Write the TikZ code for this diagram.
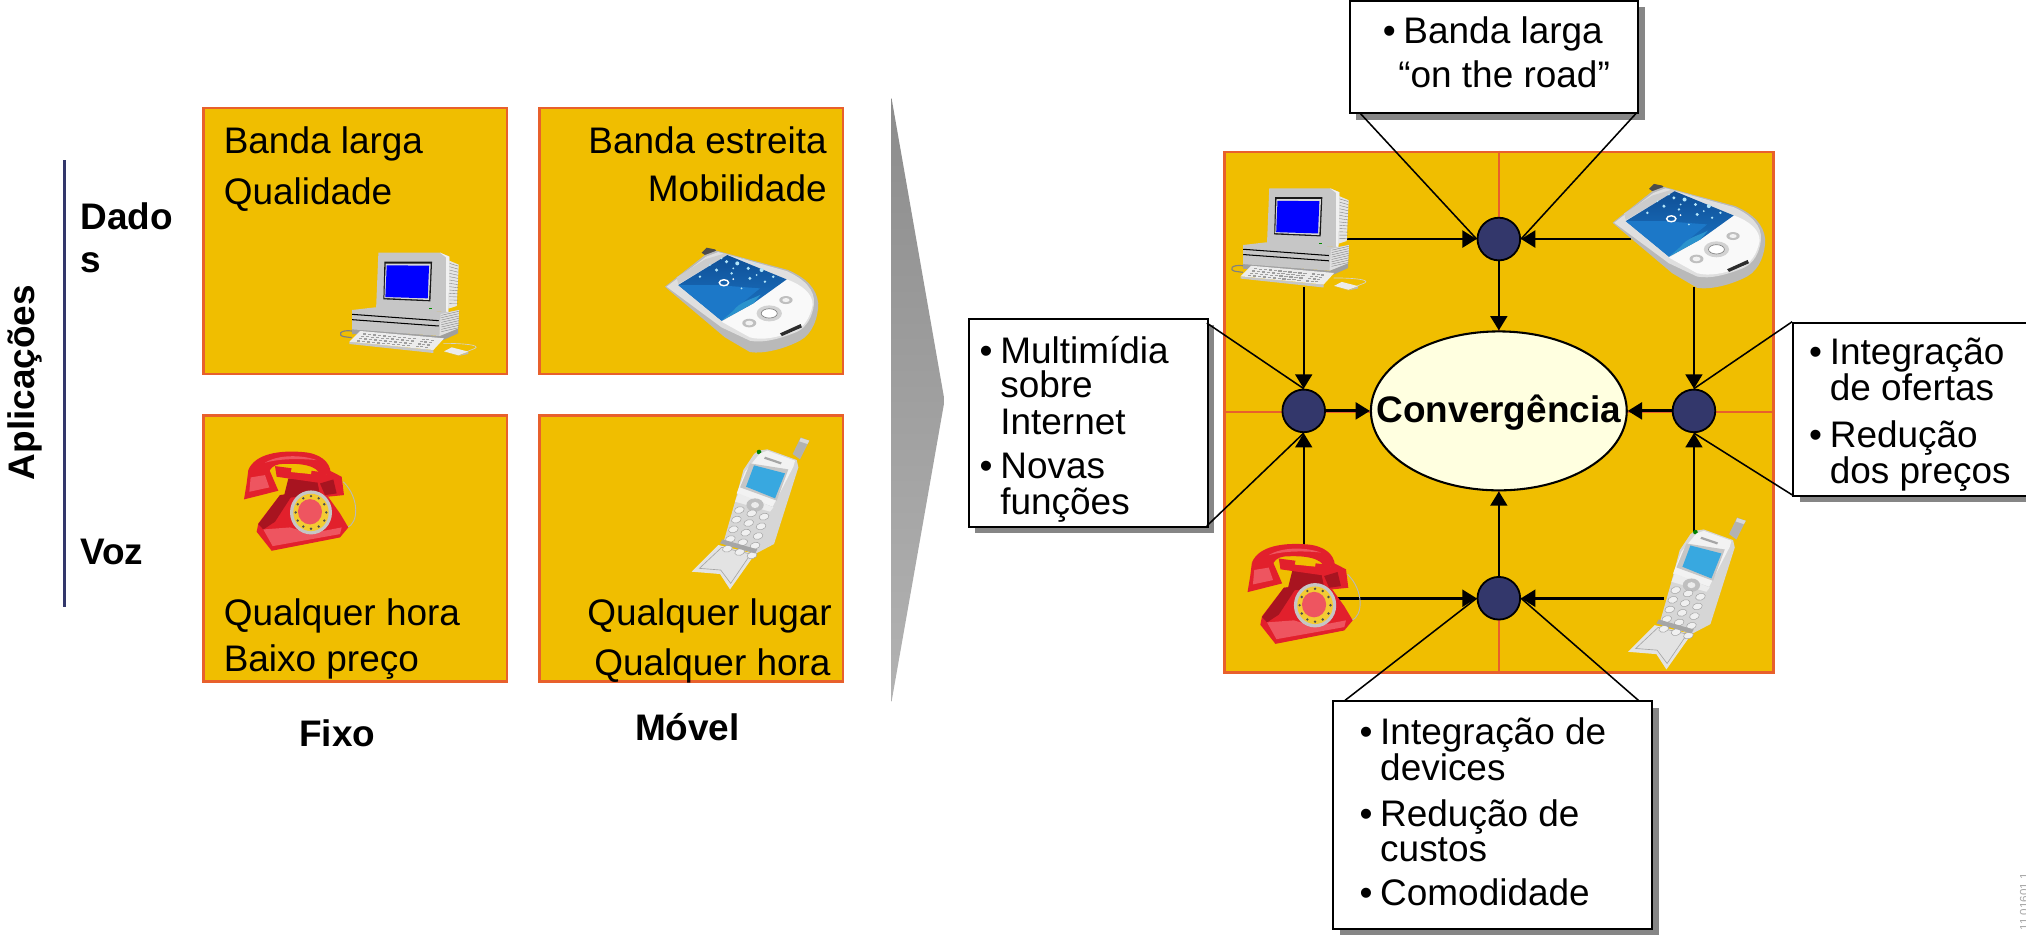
\documentclass[tikz,border=0pt]{standalone}
\usepackage{fontspec}
\setmainfont{Liberation Sans}
\usetikzlibrary{arrows.meta,shadows,calc,shapes.geometric}
\definecolor{gold}{HTML}{F0BE00}
\definecolor{orng}{HTML}{E8602C}
\definecolor{navy}{HTML}{33376B}
\definecolor{cream}{HTML}{FFFFE0}
\definecolor{silv}{HTML}{C6C6C6}
\definecolor{telred}{HTML}{E2202C}
\definecolor{teldark}{HTML}{A81420}
\definecolor{telhi}{HTML}{EE5560}
\definecolor{celblue}{HTML}{38A8E0}
\definecolor{pdatop}{HTML}{0F4F96}
\definecolor{pdalow}{HTML}{1C78C8}
\newcommand{\bul}{\makebox[16pt][l]{•}}
\tikzset{
  x=1pt,y=-1pt,
  sq/.style={draw=orng,fill=gold,line width=2pt,inner sep=0pt,anchor=north west},
  smallsq/.style={sq,minimum width=235pt,minimum height=206pt},
  lab/.style={inner sep=0pt,font=\fontsize{28.6}{34}\selectfont,text=black},
  lw/.style={lab,anchor=base west},
  le/.style={lab,anchor=base east},
  bold/.style={lab,font=\fontsize{28.6}{34}\selectfont\bfseries},
  dot/.style={circle,draw=black,fill=navy,line width=1.4pt,minimum size=33pt,inner sep=0pt},
  callout/.style={draw=black,fill=white,line width=1.6pt,inner sep=0pt,anchor=north west,
    general shadow={fill=gray!95,shadow xshift=5pt,shadow yshift=-5pt}},
  thinline/.style={draw=black,line width=1.2pt},
  arr/.style={draw=black,line width=1.6pt,-{Triangle[length=11pt,width=13pt]}},
  arrH/.style={draw=black,line width=2.2pt,-{Triangle[length=11pt,width=13pt]}},
  pc/.pic={
    \draw[gray,line width=.9pt] (96,303) .. controls (58,298) and (52,316) .. (72,320) -- (95,323);
    \draw[gray!35,line width=.5pt] (370,340) .. controls (430,340) and (482,345) .. (465,355) -- (440,365);
    \fill[gray!75] (96,295) -- (358,318) -- (414,292) -- (414,310) -- (370,330) -- (96,312) -- cycle;
    \fill[silv] (96,240) -- (165,232) -- (385,246) -- (417,240) -- (414,295) -- (358,318) -- (96,298) -- cycle;
    \fill[gray!25] (362,252) -- (417,240) -- (414,295) -- (358,318) -- cycle;
    \foreach \i in {0,...,7}{\draw[gray,line width=.3pt] (364,{256+\i*7}) -- (416,{244+\i*7});}
    \draw[black,line width=.8pt] (96,253) -- (356,272);
    \draw[black,line width=.8pt] (96,269) -- (356,288);
    \fill[gray!20] (355,95) -- (388,92) -- (416,104) -- (410,228) -- (385,236) -- cycle;
    \foreach \i in {0,...,12}{\draw[gray,line width=.3pt] (388,{100+\i*10}) -- (414,{108+\i*9.3});}
    \fill[silv] (175,68) -- (360,68) -- (388,80) -- (385,246) -- (168,238) -- cycle;
    \fill[white!75!silv] (360,68) -- (388,80) -- (385,246) -- (378,245) -- (378,82) -- cycle;
    \fill[gray!20!black] (193,95) -- (336,95) -- (331,214) -- (190,208) -- cycle;
    \fill[gray!30] (197,101) -- (332,101) -- (327,210) -- (193,204) -- cycle;
    \fill[blue] (200,106) -- (327,107) -- (323,205) -- (196,201) -- cycle;
    \fill[green!55!black] (327,234) rectangle (336,237);
    \fill[gray!45] (88,335) -- (340,360) -- (340,369) -- (88,342) -- cycle;
    \fill[gray!15] (120,303) -- (372,325) -- (340,360) -- (88,335) -- cycle;
    \foreach \j in {0,1,2,3}{\foreach \i in {0,...,10}{
      \fill[gray!75] ({128+\i*15-\j*6},{310+\i*1.4+\j*7}) rectangle +(10,4);}
      \foreach \i in {0,1,2}{\fill[gray!75] ({305+\i*14-\j*6},{326+\i*1.4+\j*7}) rectangle +(9,4);}}
    \fill[gray!55] (372,365) -- (415,378) -- (445,365) -- (445,372) -- (415,378) -- cycle;
    \fill[gray!15] (372,364) -- (395,352) -- (445,365) -- (415,376) -- cycle;
  },
  pda/.pic={
    \fill[gray!60!black] (155,98) -- (170,83) -- (195,88) -- (208,102) -- (175,112) -- cycle;
    \fill[gray!55] (45,200) -- (165,105) -- (200,92) -- (415,150) .. controls (470,175) and (500,205) .. (505,250) .. controls (505,290) and (490,340) .. (450,362) .. controls (400,388) and (340,402) .. (300,396) -- (225,352) -- cycle;
    \fill[gray!25] (50,200) -- (168,110) -- (205,96) -- (410,153) .. controls (465,178) and (496,210) .. (492,252) .. controls (488,290) and (470,322) .. (440,336) .. controls (390,356) and (340,370) .. (300,362) -- (215,322) -- cycle;
    \fill[white!95!gray] (215,305) -- (310,250) -- (410,178) .. controls (460,195) and (490,225) .. (488,255) .. controls (480,295) and (460,325) .. (430,335) .. controls (380,352) and (340,362) .. (300,352) -- cycle;
    \fill[gray!40] (80,172) -- (165,118) -- (225,100) -- (232,105) -- (85,192) -- cycle;
    \shade[top color=pdatop,bottom color=pdalow] (85,195) -- (232,105) -- (410,178) -- (310,250) -- (215,302) -- cycle;
    \fill[pdalow] (85,195) -- (200,195) -- (330,205) -- (260,262) -- (215,302) -- cycle;
    \fill[cyan!50!pdalow] (250,272) .. controls (270,245) and (300,240) .. (332,224) -- (310,250) -- (215,302) -- cycle;
    \foreach \a/\b/\r in {230/125/5,262/130/6,295/145/5,335/150/6,370/170/4,200/150/5,245/160/4,150/170/4,300/175/5,345/185/4,275/205/3,180/135/3,215/115/3,320/165/3,280/118/3,250/145/3,315/130/3}{
      \fill[white!70!cyan] (\a,\b) circle (\r);}
    \draw[white,line width=1.1pt] (222,188) ellipse (14 and 9);
    \fill[white] (250,177) circle (3);
    \fill[gray!35] (358,280) ellipse (38 and 24);
    \fill[white] (358,280) ellipse (24 and 14);
    \draw[gray,line width=.5pt] (358,280) ellipse (24 and 14);
    \fill[gray!50] (298,309) ellipse (21 and 13);
    \fill[gray!10] (298,309) ellipse (12 and 7);
    \fill[gray!50] (408,240) ellipse (20 and 12);
    \fill[gray!10] (408,240) ellipse (11 and 6);
    \fill[gray!35!black] (390,340) -- (452,312) -- (456,322) -- (396,348) -- cycle;
  },
  tel/.pic={
    \draw[gray!55,line width=.7pt] (340,125) .. controls (390,175) and (385,250) .. (352,262);
    \fill[telred] (85,250) -- (150,165) -- (280,150) -- (330,220) -- (355,262) -- (330,292) -- (125,332) -- (80,275) -- cycle;
    \fill[teldark] (85,252) -- (150,165) -- (190,160) -- (135,245) -- (100,268) -- cycle;
    \fill[telhi] (100,268) -- (180,262) -- (240,280) -- (335,262) -- (330,282) -- (128,318) -- cycle;
    \fill[teldark] (175,115) -- (262,115) -- (285,160) -- (160,175) -- cycle;
    \fill[telred] (135,78) -- (290,98) -- (280,130) -- (140,110) -- cycle;
    \fill[gold] (185,82) -- (245,90) -- (243,102) -- (183,96) -- cycle;
    \fill[telred] (55,90) .. controls (75,40) and (150,30) .. (220,36) .. controls (270,40) and (300,65) .. (302,98) -- (272,108) .. controls (265,75) and (210,68) .. (150,72) .. controls (130,75) and (120,85) .. (115,100) -- cycle;
    \fill[telhi] (105,68) .. controls (140,45) and (210,42) .. (260,60) .. controls (210,55) and (150,55) .. (105,68) -- cycle;
    \fill[telred] (55,90) -- (115,82) -- (145,152) -- (42,178) -- (50,130) -- cycle;
    \fill[telhi] (62,112) -- (105,105) -- (118,142) -- (58,155) -- cycle;
    \fill[telred] (300,92) -- (335,110) -- (342,165) -- (272,172) -- (263,128) -- cycle;
    \fill[teldark] (270,130) -- (310,118) -- (320,160) -- (285,165) -- cycle;
    \fill[gray!45] (243,217) ellipse (63 and 66);
    \fill[gold!80!white] (243,217) ellipse (53 and 56);
    \foreach \t in {0,30,...,330}{\fill[black!70] ($(243,217)+(\t:46 and 49)$) circle (4);}
    \fill[telhi] (240,215) ellipse (36 and 38);
  },
  cel/.pic={
    \fill[gray!60] (338,72) -- (362,22) -- (388,32) -- (360,88) -- cycle;
    \fill[gray!30] (362,24) -- (388,32) -- (382,42) -- (358,34) -- cycle;
    \fill[gray!22] (115,345) -- (225,372) -- (150,478) -- (120,432) -- (35,425) -- cycle;
    \draw[gray!70,line width=.5pt] (125,352) -- (212,372) -- (152,460) -- (122,420) -- (58,415) -- cycle;
    \fill[gray!32] (235,62) -- (262,58) -- (350,90) -- (355,112) -- (282,342) -- (225,372) -- (130,338) -- (165,215) -- (190,120) -- (222,72) -- cycle;
    \fill[green!50!black] (237,66) circle (7);
    \fill[gray!10] (240,70) -- (262,62) -- (345,92) -- (340,110) -- (278,230) -- (170,190) -- (195,125) -- cycle;
    \fill[gray!45] (210,100) -- (325,118) -- (290,212) -- (180,172) -- cycle;
    \fill[celblue] (222,106) -- (315,130) -- (285,205) -- (198,170) -- cycle;
    \fill[gray!70] (255,80) -- (305,97) -- (302,103) -- (252,86) -- cycle;
    \fill[gray!15] (175,190) -- (280,232) -- (270,245) -- (165,215) -- cycle;
    \fill[gray!50] (225,225) ellipse (26 and 20);
    \fill[gray!15] (225,225) ellipse (12 and 9);
    \foreach \r in {0,...,4}{\foreach \c in {0,1,2}{
      \fill[gray!12,draw=gray!70,line width=.4pt,rotate around={15:({178+\c*37-\r*9},{240+\r*29+\c*10})}] ({178+\c*37-\r*9},{240+\r*29+\c*10}) ellipse (15 and 10);}}
    \fill[gray!70] (120,340) -- (225,370) -- (232,358) -- (127,328) -- cycle;
  }
}
\begin{document}
\begin{tikzpicture}[x=1pt,y=-1pt]
\useasboundingbox (0,0) rectangle (1568,726);
\clip (0,0) rectangle (1568,726);
% left grid
\node[smallsq] (qa) at (156.5,82.5) {};
\node[smallsq] (qb) at (416.5,82.5) {};
\node[smallsq] (qc) at (156.5,320.5) {};
\node[smallsq] (qd) at (416.5,320.5) {};
\coordinate (axT) at (50,124);
\coordinate (axB) at (50,470);
\draw[navy,line width=2.4pt] (axT) -- (axB);
\node[bold,rotate=90,anchor=center] (apl) at (19,296) {Aplicações};
\node[bold,anchor=base west] (d1) at (62,178) {Dado};
\node[bold,anchor=base west] (d2) at (62,211) {s};
\node[bold,anchor=base west] (vz) at (62,437) {Voz};
\node[bold,anchor=base] (fx) at (261,578) {Fixo};
\node[bold,anchor=base] (mv) at (532,573) {Móvel};
\node[lw] (t1) at (173,119) {Banda larga};
\node[lw] (t2) at (173,158) {Qualidade};
\node[le] (t3) at (640,119) {Banda estreita};
\node[le] (t4) at (640,156) {Mobilidade};
\node[lw] (t5) at (173,484) {Qualquer hora};
\node[lw] (t6) at (173,520) {Baixo preço};
\node[le] (t7) at (644,484) {Qualquer lugar};
\node[le] (t8) at (643,523) {Qualquer hora};
\pic[shift={(247.7,178)},scale=.258] {pc};
\pic[shift={(503,170.3)},scale=.258] {pda};
\pic[shift={(178,340.6)},scale=.258] {tel};
\pic[shift={(526.3,332.8)},scale=.258] {cel};
% big arrow
\shade[top color=gray!90,bottom color=gray!60] (690,76) -- (731,310) -- (690,543) -- cycle;
% right block
\node[sq,minimum width=425pt,minimum height=403pt] (big) at (946.5,116.5) {};
\draw[orng,line width=1.2pt] (big.north) -- (big.south);
\draw[orng,line width=1.6pt] (big.west) -- (big.east);
\node[dot] (nN) at (1160,185) {};
\node[dot] (nW) at (1009,318) {};
\node[dot] (nE) at (1311,318) {};
\node[dot] (nS) at (1160,463) {};
\node[ellipse,draw=black,fill=cream,line width=1.6pt,minimum width=198pt,minimum height=123pt,inner sep=0pt] (conv) at (1160,318) {};
\node[bold,anchor=center] (convt) at (1160,319) {Convergência};
% callout boxes
\node[callout,minimum width=223pt,minimum height=87pt] (bT) at (1044,0) {};
\node[callout,minimum width=185pt,minimum height=161pt] (bW) at (749,246) {};
\node[callout,minimum width=200pt,minimum height=134pt] (bE) at (1387,249) {};
\node[callout,minimum width=247pt,minimum height=176pt] (bS) at (1031,542) {};
% callout lines
\coordinate (cT1) at (1053,88);
\coordinate (cT2) at (1266,88);
\coordinate (cW1) at (934,250);
\coordinate (cW2) at (934,407);
\coordinate (cE1) at (1387,249);
\coordinate (cE2) at (1387,383);
\coordinate (cS1) at (1041,542);
\coordinate (cS2) at (1268,542);
\draw[thinline] (cT1) -- (nN.west);
\draw[thinline] (cT2) -- (nN.east);
\draw[thinline] (cW1) -- (nW.north);
\draw[thinline] (cW2) -- (nW.south);
\draw[thinline] (cE1) -- (nE.north);
\draw[thinline] (cE2) -- (nE.south);
\draw[thinline] (cS1) -- (nS.west);
\draw[thinline] (cS2) -- (nS.east);
% connectors
\coordinate (pcH) at (1040,185);
\coordinate (pdaH) at (1262,185);
\coordinate (pcV) at (1009,222);
\coordinate (pdaV) at (1311,222);
\coordinate (telV) at (1009,425);
\coordinate (celV) at (1311,412);
\coordinate (telH) at (1033,463);
\coordinate (celH) at (1288,463);
\draw[arrH] (pcH) -- (nN.west);
\draw[arrH] (pdaH) -- (nN.east);
\draw[arr] (nN.south) -- (conv.north);
\draw[arr] (pcV) -- (nW.north);
\draw[arr] (pdaV) -- (nE.north);
\draw[arr] (telV) -- (nW.south);
\draw[arr] (celV) -- (nE.south);
\draw[arrH] (nW.east) -- (conv.west);
\draw[arrH] (nE.west) -- (conv.east);
\draw[arr] (nS.north) -- (conv.south);
\draw[arrH] (telH) -- (nS.west);
\draw[arrH] (celH) -- (nS.east);
% images
\pic[shift={(937.7,128.4)},scale=.255] {pc};
\pic[shift={(1236.4,121)},scale=.257] {pda};
\pic[shift={(954.6,412)},scale=.26] {tel};
\pic[shift={(1251,394.8)},scale=.258] {cel};
% box texts
\node[lw] (x1) at (1070,34) {\bul Banda larga};
\node[lw] (x2) at (1082,68) {“on the road”};
\node[lw] (w1) at (758,281) {\bul Multimídia};
\node[lw] (w2) at (774,308) {sobre};
\node[lw] (w3) at (774,336) {Internet};
\node[lw] (w4) at (758,370) {\bul Novas};
\node[lw] (w5) at (774,398) {funções};
\node[lw] (e1) at (1400,282) {\bul Integração};
\node[lw] (e2) at (1416,310) {de ofertas};
\node[lw] (e3) at (1400,346) {\bul Redução};
\node[lw] (e4) at (1416,374) {dos preços};
\node[lw] (s1) at (1052,576) {\bul Integração de};
\node[lw] (s2) at (1068,604) {devices};
\node[lw] (s3) at (1052,640) {\bul Redução de};
\node[lw] (s4) at (1068,667) {custos};
\node[lw] (s5) at (1052,701) {\bul Comodidade};
\node[inner sep=0pt,rotate=90,anchor=south,text=gray!70,font=\fontsize{9}{10}\selectfont] (wm) at (1570,698) {11 01601 1};
\end{tikzpicture}
\end{document}
